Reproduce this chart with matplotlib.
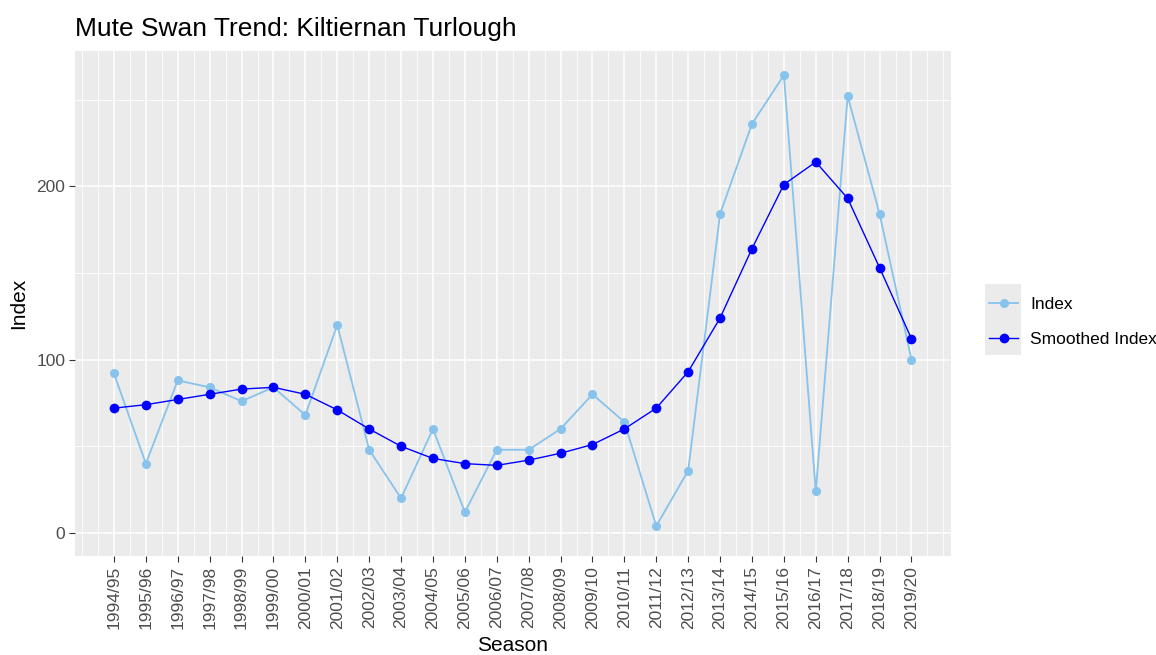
import matplotlib.pyplot as plt
from matplotlib.patches import Rectangle
import numpy as np

plt.rcParams['font.family'] = ['Liberation Sans', 'DejaVu Sans']

seasons = ['1994/95', '1995/96', '1996/97', '1997/98', '1998/99', '1999/00',
           '2000/01', '2001/02', '2002/03', '2003/04', '2004/05', '2005/06',
           '2006/07', '2007/08', '2008/09', '2009/10', '2010/11', '2011/12',
           '2012/13', '2013/14', '2014/15', '2015/16', '2016/17', '2017/18',
           '2018/19', '2019/20']
index_vals = [92, 40, 88, 84, 76, 84, 68, 120, 48, 20, 60, 12, 48, 48, 60, 80,
              64, 4, 36, 184, 236, 264, 24, 252, 184, 100]
smoothed_vals = [72, 74, 77, 80, 83, 84, 80, 71, 60, 50, 43, 40, 39, 42, 46, 51,
                 60, 72, 93, 124, 164, 201, 214, 193, 153, 112]

x = np.arange(len(seasons))

fig = plt.figure(figsize=(11.56, 6.55), dpi=100)
ax = fig.add_axes([0.0649, 0.1511, 0.7578, 0.771])
ax.set_facecolor('#EBEBEB')
for s in ax.spines.values():
    s.set_visible(False)

ax.plot(x, index_vals, color='#87C3EC', marker='o', markersize=5.5, lw=1.3, label='Index', zorder=3)
ax.plot(x, smoothed_vals, color='#0000FF', marker='o', markersize=6, lw=1.0, label='Smoothed Index', zorder=4)

ax.set_xlim(-1.22, 26.24)
ax.set_ylim(-13.3, 278)

ax.set_xticks(x)
ax.set_xticklabels(seasons, rotation=90)
minor_x = [v for v in np.arange(-1, 26.5, 0.5) if v not in list(x)]
ax.set_xticks(minor_x, minor=True)
ax.set_yticks([0, 100, 200])
ax.set_yticks([50, 150, 250], minor=True)

ax.grid(which='major', color='white', lw=1.1)
ax.grid(which='minor', color='white', lw=0.6)
ax.set_axisbelow(True)
ax.tick_params(which='major', length=4, color='#333333', labelcolor='#4D4D4D', labelsize=12.5, pad=3)
ax.tick_params(which='minor', length=0)

ax.set_xlabel('Season', fontsize=15, labelpad=5)
ax.set_ylabel('Index', fontsize=15, labelpad=6)
ax.set_title('Mute Swan Trend: Kiltiernan Turlough', fontsize=19, loc='left', pad=11)

fig.patches.append(Rectangle((985 / 1156, 1 - 355 / 655), 36 / 1156, 71 / 655,
                             transform=fig.transFigure, facecolor='#EBEBEB', edgecolor='none', zorder=0))
fig.legend(loc='center left', bbox_to_anchor=(985 / 1156, 1 - 322 / 655), frameon=False,
           fontsize=12.5, handlelength=1.67, handletextpad=0.7, labelspacing=1.15, borderaxespad=0,
           borderpad=0.25)

fig.savefig('out.png', dpi=100)
